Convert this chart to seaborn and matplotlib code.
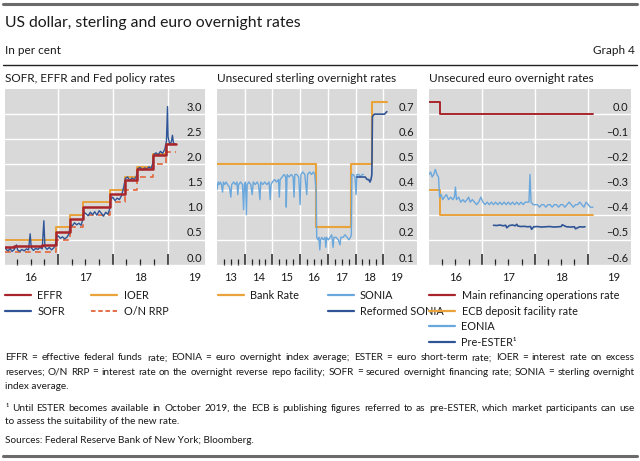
import matplotlib
matplotlib.use("Agg")
import matplotlib.pyplot as plt
import seaborn as sns
import numpy as np
from matplotlib.lines import Line2D
from matplotlib.transforms import ScaledTranslation

# ---------------- DATA ----------------
# Panel 1: US rates
us_policy_x = [2016.03, 2016.96, 2017.21, 2017.46, 2017.95, 2018.22, 2018.45, 2018.74, 2018.97, 2019.15]
ioer = [0.50, 0.75, 1.00, 1.25, 1.50, 1.75, 1.95, 2.20, 2.40, 2.40]
onrrp = [0.25, 0.50, 0.75, 1.00, 1.25, 1.50, 1.75, 2.00, 2.25, 2.25]
effr_x = [2016.03, 2016.20, 2016.70, 2016.96, 2017.21, 2017.46, 2017.95, 2018.22, 2018.45, 2018.74, 2018.97, 2019.15]
effr = [0.36, 0.37, 0.40, 0.66, 0.91, 1.16, 1.42, 1.69, 1.91, 2.19, 2.40, 2.40]
sofr_x = [2016.03, 2016.06, 2016.09, 2016.12, 2016.16, 2016.20, 2016.24, 2016.26, 2016.30, 2016.34,
          2016.38, 2016.42, 2016.46, 2016.49, 2016.51, 2016.55, 2016.59, 2016.63, 2016.67, 2016.71,
          2016.74, 2016.76, 2016.80, 2016.84, 2016.88, 2016.92, 2016.95, 2016.97, 2017.00, 2017.04,
          2017.08, 2017.12, 2017.16, 2017.20, 2017.22, 2017.26, 2017.30, 2017.34, 2017.38, 2017.42,
          2017.45, 2017.47, 2017.51, 2017.55, 2017.59, 2017.63, 2017.67, 2017.71, 2017.75, 2017.79,
          2017.83, 2017.87, 2017.91, 2017.94, 2017.96, 2018.00, 2018.04, 2018.08, 2018.12, 2018.16,
          2018.20, 2018.23, 2018.27, 2018.31, 2018.35, 2018.39, 2018.43, 2018.46, 2018.50, 2018.54,
          2018.58, 2018.62, 2018.66, 2018.70, 2018.73, 2018.75, 2018.79, 2018.83, 2018.87, 2018.91,
          2018.95, 2018.98, 2019.00, 2019.01, 2019.04, 2019.07, 2019.09, 2019.11, 2019.15]
sofr = [0.35, 0.30, 0.28, 0.33, 0.27, 0.31, 0.40, 0.30, 0.27, 0.31,
        0.28, 0.32, 0.30, 0.62, 0.34, 0.29, 0.33, 0.31, 0.35, 0.32,
        0.88, 0.36, 0.31, 0.35, 0.30, 0.34, 0.40, 0.55, 0.58, 0.53,
        0.56, 0.52, 0.55, 0.62, 0.80, 0.78, 0.84, 0.80, 0.83, 0.79,
        0.90, 1.05, 1.02, 0.98, 1.05, 1.00, 1.06, 0.99, 1.08, 1.03,
        0.97, 1.05, 1.01, 1.10, 1.30, 1.35, 1.28, 1.33, 1.30, 1.38,
        1.55, 1.72, 1.75, 1.68, 1.73, 1.70, 1.76, 1.92, 1.94, 1.89,
        1.93, 1.91, 1.95, 1.92, 2.02, 2.20, 2.23, 2.19, 2.26, 2.22,
        2.30, 2.46, 3.15, 2.55, 2.40, 2.45, 2.58, 2.42, 2.40]

# Panel 2: sterling rates
bank_rate_x = [2013.0, 2016.59, 2017.84, 2018.59, 2019.13]
bank_rate = [0.50, 0.25, 0.50, 0.75, 0.75]
sonia_x = [2013.00, 2013.04, 2013.08, 2013.12, 2013.16, 2013.20, 2013.23, 2013.28, 2013.33, 2013.38,
           2013.45, 2013.50, 2013.53, 2013.60, 2013.66, 2013.72, 2013.75, 2013.78, 2013.85, 2013.92,
           2013.96, 2013.99, 2014.03, 2014.06, 2014.09, 2014.15, 2014.22, 2014.27, 2014.31, 2014.38,
           2014.45, 2014.50, 2014.55, 2014.58, 2014.65, 2014.72, 2014.80, 2014.88, 2014.92, 2014.95,
           2015.00, 2015.08, 2015.15, 2015.22, 2015.25, 2015.28, 2015.35, 2015.42, 2015.48, 2015.50,
           2015.53, 2015.60, 2015.68, 2015.75, 2015.78, 2015.81, 2015.88, 2015.95, 2016.00, 2016.03,
           2016.10, 2016.17, 2016.24, 2016.27, 2016.34, 2016.41, 2016.48, 2016.53, 2016.58, 2016.60,
           2016.64, 2016.68, 2016.71, 2016.74, 2016.78, 2016.84, 2016.90, 2016.93, 2016.96, 2017.02,
           2017.08, 2017.14, 2017.19, 2017.22, 2017.30, 2017.38, 2017.44, 2017.47, 2017.55, 2017.62,
           2017.70, 2017.76, 2017.82, 2017.85, 2017.87, 2017.92, 2017.98, 2018.02, 2018.05, 2018.12,
           2018.18, 2018.24, 2018.29]
sonia = [0.40, 0.43, 0.42, 0.43, 0.42, 0.39, 0.43, 0.42, 0.43, 0.42,
         0.41, 0.37, 0.42, 0.43, 0.42, 0.43, 0.38, 0.42, 0.43, 0.42,
         0.32, 0.42, 0.43, 0.30, 0.42, 0.43, 0.42, 0.38, 0.43, 0.42,
         0.43, 0.42, 0.36, 0.43, 0.42, 0.43, 0.42, 0.43, 0.36, 0.42,
         0.43, 0.44, 0.43, 0.44, 0.37, 0.44, 0.45, 0.46, 0.45, 0.33,
         0.46, 0.45, 0.46, 0.45, 0.37, 0.46, 0.46, 0.45, 0.34, 0.46,
         0.47, 0.46, 0.38, 0.46, 0.47, 0.46, 0.47, 0.46, 0.39, 0.21,
         0.20, 0.21, 0.16, 0.20, 0.21, 0.20, 0.21, 0.17, 0.21, 0.20,
         0.21, 0.22, 0.17, 0.21, 0.21, 0.20, 0.18, 0.21, 0.21, 0.22,
         0.21, 0.20, 0.21, 0.22, 0.46, 0.46, 0.45, 0.38, 0.46, 0.46,
         0.45, 0.46, 0.46]
reformed_x = [2018.05, 2018.12, 2018.20, 2018.28, 2018.35, 2018.42, 2018.48, 2018.52, 2018.56, 2018.59,
              2018.61, 2018.68, 2018.75, 2018.82, 2018.90, 2018.97, 2019.05, 2019.13]
reformed = [0.45, 0.45, 0.45, 0.45, 0.45, 0.44, 0.44, 0.43, 0.44, 0.46,
            0.69, 0.70, 0.70, 0.70, 0.70, 0.70, 0.70, 0.71]

# Panel 3: euro rates
ecb_x = [2016.0, 2016.20, 2019.10]
mro = [0.05, 0.00, 0.00]
dfr = [-0.30, -0.40, -0.40]
eonia_x = [2016.00, 2016.03, 2016.06, 2016.09, 2016.12, 2016.15, 2016.18, 2016.20, 2016.23, 2016.26,
           2016.29, 2016.33, 2016.37, 2016.41, 2016.45, 2016.48, 2016.50, 2016.52, 2016.56, 2016.60,
           2016.64, 2016.68, 2016.72, 2016.75, 2016.78, 2016.82, 2016.86, 2016.90, 2016.94, 2016.98,
           2017.02, 2017.06, 2017.10, 2017.14, 2017.18, 2017.22, 2017.26, 2017.30, 2017.34, 2017.38,
           2017.42, 2017.46, 2017.50, 2017.54, 2017.58, 2017.62, 2017.66, 2017.70, 2017.74, 2017.78,
           2017.82, 2017.86, 2017.89, 2017.91, 2017.93, 2017.97, 2018.01, 2018.05, 2018.09, 2018.13,
           2018.17, 2018.21, 2018.25, 2018.29, 2018.33, 2018.37, 2018.41, 2018.45, 2018.49, 2018.53,
           2018.57, 2018.61, 2018.65, 2018.69, 2018.73, 2018.77, 2018.81, 2018.85, 2018.89, 2018.93,
           2018.97, 2019.01, 2019.05, 2019.10]
eonia = [-0.24, -0.23, -0.25, -0.24, -0.22, -0.24, -0.25, -0.33, -0.32, -0.34,
         -0.33, -0.32, -0.34, -0.33, -0.34, -0.33, -0.29, -0.34, -0.33, -0.35,
         -0.34, -0.35, -0.34, -0.33, -0.35, -0.34, -0.35, -0.36, -0.35, -0.33,
         -0.35, -0.36, -0.35, -0.36, -0.35, -0.36, -0.35, -0.36, -0.35, -0.36,
         -0.35, -0.36, -0.35, -0.36, -0.35, -0.36, -0.35, -0.36, -0.35, -0.36,
         -0.35, -0.35, -0.35, -0.24, -0.35, -0.36, -0.36, -0.36, -0.37, -0.36,
         -0.36, -0.37, -0.36, -0.36, -0.37, -0.36, -0.36, -0.37, -0.36, -0.36,
         -0.37, -0.36, -0.35, -0.36, -0.37, -0.36, -0.36, -0.35, -0.36, -0.37,
         -0.35, -0.36, -0.37, -0.37]
pre_ester_x = [2017.22, 2017.28, 2017.34, 2017.40, 2017.45, 2017.47, 2017.52, 2017.58, 2017.63, 2017.66,
               2017.68, 2017.74, 2017.80, 2017.86, 2017.92, 2017.94, 2017.98, 2018.05, 2018.12, 2018.20,
               2018.28, 2018.36, 2018.44, 2018.50, 2018.52, 2018.60, 2018.68, 2018.75, 2018.77, 2018.85,
               2018.92, 2018.95]
pre_ester = [-0.442, -0.443, -0.441, -0.444, -0.442, -0.452, -0.443, -0.441, -0.444, -0.438,
             -0.445, -0.447, -0.446, -0.448, -0.447, -0.458, -0.448, -0.447, -0.449, -0.448,
             -0.447, -0.449, -0.448, -0.447, -0.440, -0.448, -0.449, -0.448, -0.456, -0.448,
             -0.449, -0.448]

# x-axis ticks (years)
p1_years = [16, 17, 18, 19]
p2_years = [13, 14, 15, 16, 17, 18, 19]
p3_years = [16, 17, 18, 19]

# ---------------- STYLE ----------------
sns.set_theme(style="darkgrid")
plt.rcParams["font.family"] = ["Lato", "DejaVu Sans"]
TXT = "#1a1a1a"
BG = "#d9d9d9"

W, H = 640, 461
fig = plt.figure(figsize=(W / 100, H / 100), dpi=100)
fig.patch.set_facecolor("white")


def fx(x):
    return x / W


def fy(y):
    return 1 - y / H


def add_ax(l, t, r, b):
    return fig.add_axes([fx(l), fy(b), (r - l) / W, (b - t) / H])


LS = 8.0  # tick label size


def style_axis(ax, xlim, ylim, yticks, years):
    ax.set_facecolor(BG)
    ax.set_xlim(xlim)
    ax.set_ylim(ylim)
    for s in ax.spines.values():
        s.set_visible(False)
    ax.set_yticks(yticks)
    ax.set_yticklabels([f"{v:.1f}".replace("-", "\u2212") for v in yticks])
    ax.yaxis.tick_right()
    ax.tick_params(axis="y", length=0, pad=-2, labelsize=LS, labelcolor=TXT,
                   left=False, right=False, labelleft=False, labelright=True)
    full = [2000 + y for y in years]
    bounds = full[1:]
    quarters = [y + q for y in full[:-1] for q in (0.25, 0.5, 0.75)]
    ax.set_xticks(bounds)
    ax.set_xticks(quarters, minor=True)
    ax.tick_params(axis="x", which="major", direction="in", length=8, width=1.1,
                   color="#222222", bottom=True, labelbottom=False)
    ax.tick_params(axis="x", which="minor", direction="in", length=4, width=0.9,
                   color="#222222", bottom=True, labelbottom=False)
    ax.grid(True, which="major", color="white", lw=1.0)
    ax.grid(False, which="minor")
    off = ScaledTranslation(0, 1.0 / 72, fig.dpi_scale_trans)
    for lbl in ax.get_yticklabels():
        lbl.set_ha("right")
        lbl.set_va("bottom")
        lbl.set_transform(lbl.get_transform() + off)
    sec = ax.secondary_xaxis("bottom")
    sec.set_xticks([y + 0.5 for y in full], [str(y) for y in years])
    sec.tick_params(length=0, pad=5, labelsize=LS, labelcolor=TXT)
    for s in sec.spines.values():
        s.set_visible(False)


def line(ax, x, y, color, lw, steps=False, **kw):
    extra = {"drawstyle": "steps-post"} if steps else {}
    sns.lineplot(x=x, y=y, ax=ax, color=color, lw=lw, estimator=None, sort=False, **extra, **kw)


C_RED = "#a8262b"
C_DBLUE = "#2f5597"
C_ORANGE = "#eaa23a"
C_RRP = "#e2653a"
C_LBLUE = "#6aa7dc"

# ---------------- PANEL 1 ----------------
ax1 = add_ax(5, 89, 205, 265)
line(ax1, us_policy_x, ioer, C_ORANGE, 1.4, steps=True)
line(ax1, us_policy_x, onrrp, C_RRP, 1.2, steps=True, linestyle=(0, (3.5, 2.5)))
line(ax1, sofr_x, sofr, C_DBLUE, 1.0)
line(ax1, effr_x, effr, C_RED, 1.8, steps=True)
style_axis(ax1, (2016.03, 2019.685), (0.0, 3.5), [0.0, 0.5, 1.0, 1.5, 2.0, 2.5, 3.0], p1_years)

# ---------------- PANEL 2 ----------------
ax2 = add_ax(217, 89, 417, 265)
line(ax2, bank_rate_x, bank_rate, C_ORANGE, 1.5, steps=True)
line(ax2, sonia_x, sonia, C_LBLUE, 1.0)
line(ax2, reformed_x, reformed, C_DBLUE, 1.2)
style_axis(ax2, (2013.0, 2020.22), (0.1, 0.8), [0.1, 0.2, 0.3, 0.4, 0.5, 0.6, 0.7], p2_years)

# ---------------- PANEL 3 ----------------
ax3 = add_ax(429, 89, 631, 265)
line(ax3, ecb_x, mro, C_RED, 1.4, steps=True)
line(ax3, ecb_x, dfr, C_ORANGE, 1.4, steps=True)
line(ax3, eonia_x, eonia, C_LBLUE, 1.0)
line(ax3, pre_ester_x, pre_ester, C_DBLUE, 1.2)
style_axis(ax3, (2016.0, 2019.82), (-0.6, 0.1), [-0.6, -0.5, -0.4, -0.3, -0.2, -0.1, 0.0], p3_years)

# ---------------- LEGENDS ----------------
LEG = dict(frameon=False, fontsize=7.8, handlelength=2.4, handletextpad=0.6,
           labelspacing=0.42, borderaxespad=0, borderpad=0, loc="upper left",
           bbox_transform=fig.transFigure, labelcolor=TXT)


def h(color, ls="-", lw=1.6):
    return Line2D([], [], color=color, ls=ls, lw=lw)


ax1.legend([h(C_RED), h(C_DBLUE), h(C_ORANGE), h(C_RRP, (0, (2.5, 1.5)), 1.3)],
           ["EFFR", "SOFR", "IOER", "O/N RRP"], ncol=2, columnspacing=2.4,
           bbox_to_anchor=(fx(5), fy(290)), **LEG)
ax2.legend([h(C_ORANGE), Line2D([], [], alpha=0), h(C_LBLUE), h(C_DBLUE)],
           ["Bank Rate", " ", "SONIA", "Reformed SONIA"], ncol=2, columnspacing=2.6,
           bbox_to_anchor=(fx(218), fy(290)), **LEG)
ax3.legend([h(C_RED), h(C_ORANGE), h(C_LBLUE), h(C_DBLUE)],
           ["Main refinancing operations rate", "ECB deposit facility rate", "EONIA", "Pre-ESTER\u00b9"],
           ncol=1, bbox_to_anchor=(fx(429), fy(290)), **LEG)

# ---------------- TEXT & RULES ----------------
fig.add_artist(Line2D([fx(3), fx(637)], [fy(4), fy(4)], color="#6b6b6b", lw=2.2))
fig.text(fx(5), fy(23), "US dollar, sterling and euro overnight rates", fontsize=11.3,
         va="center", ha="left", color=TXT)
fig.text(fx(5), fy(50), "In per cent", fontsize=8.5, va="center", ha="left", color=TXT)
fig.text(fx(635), fy(50), "Graph 4", fontsize=8.5, va="center", ha="right", color=TXT)
fig.add_artist(Line2D([fx(3), fx(637)], [fy(65), fy(65)], color="#222222", lw=1.0))
fig.text(fx(5), fy(78), "SOFR, EFFR and Fed policy rates", fontsize=8.5, va="center", color=TXT)
fig.text(fx(217), fy(78), "Unsecured sterling overnight rates", fontsize=8.5, va="center", color=TXT)
fig.text(fx(429), fy(78), "Unsecured euro overnight rates", fontsize=8.5, va="center", color=TXT)

FN = 7.2
renderer = fig.canvas.get_renderer()


def justified(y, text, x0=5, x1=635):
    words = text.split(" ")
    widths = []
    for w in words:
        t = fig.text(0, 0, w, fontsize=FN)
        widths.append(t.get_window_extent(renderer=renderer).width)
        t.remove()
    gap = (x1 - x0 - sum(widths)) / (len(words) - 1)
    x = x0
    for w, wd in zip(words, widths):
        fig.text(fx(x), fy(y), w, fontsize=FN, va="center", ha="left", color=TXT)
        x += wd + gap


def plain(y, text):
    fig.text(fx(5), fy(y), text, fontsize=FN, va="center", ha="left", color=TXT)


justified(358, "EFFR = effective federal funds rate; EONIA = euro overnight index average; ESTER = euro short-term rate; IOER = interest rate on excess")
justified(372, "reserves; O/N RRP = interest rate on the overnight reverse repo facility; SOFR = secured overnight financing rate; SONIA = sterling overnight")
plain(386, "index average.")
justified(408, "\u00b9 Until ESTER becomes available in October 2019, the ECB is publishing figures referred to as pre-ESTER, which market participants can use")
plain(422, "to assess the suitability of the new rate.")
plain(440, "Sources: Federal Reserve Bank of New York; Bloomberg.")
fig.add_artist(Line2D([fx(3), fx(637)], [fy(456), fy(456)], color="#6b6b6b", lw=2.2))

fig.savefig("out.png", dpi=100, facecolor="white")
